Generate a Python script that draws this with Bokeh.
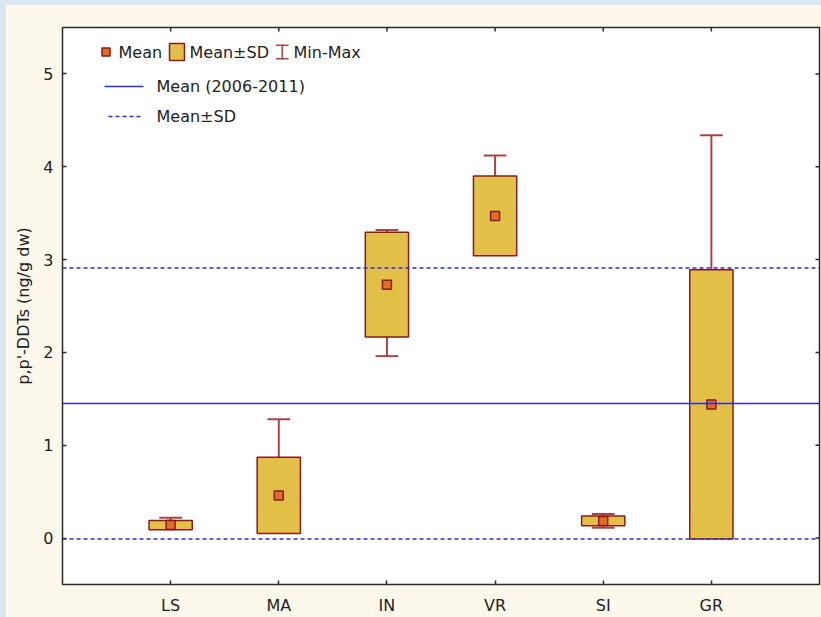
import numpy as np
from bokeh.plotting import figure
from bokeh.models import (FixedTicker, Range1d, Span, Label, BoxAnnotation,
                          ColumnDataSource, Spacer)
from bokeh.layouts import column, row
from bokeh.embed import file_html
from bokeh.resources import INLINE

# p,p'-DDTs by site: mean, standard deviation and range (ng/g dw)
sites = ["LS", "MA", "IN", "VR", "SI", "GR"]
site_mean = [0.14, 0.46, 2.73, 3.47, 0.185, 1.44]
site_sd = [0.05, 0.41, 0.565, 0.43, 0.053, 1.45]
site_min = [0.11, 0.12, 1.96, 3.10, 0.11, 0.05]
site_max = [0.22, 1.28, 3.32, 4.12, 0.26, 4.34]

# overall level for the 2006-2011 period
period_mean = 1.45
period_sd = 1.46

y_ticks = [0, 1, 2, 3, 4, 5]

FONT = "DejaVu Sans"
TEXT = "#222222"
BOX_FILL = "#e2c048"
BOX_LINE = "#8b1a1a"
MEAN_FILL = "#e07020"
WHISKER = "#a84646"
BLUE = "#2a2af0"
FRAME = "#2a2a2a"

pos = np.arange(1, len(sites) + 1)
mean = np.array(site_mean)
sd = np.array(site_sd)
src = ColumnDataSource(dict(
    x=pos, mean=mean, lo=mean - sd, hi=mean + sd,
    mn=np.array(site_min), mx=np.array(site_max),
    cl=pos - 0.105, cr=pos + 0.105,
))

x_range = Range1d(0, len(sites) + 1)
y_range = Range1d(-0.5, 5.5)

p = figure(width=816, height=613, x_range=x_range, y_range=y_range,
           output_backend="svg", toolbar_location=None,
           min_border_left=57, min_border_right=2,
           min_border_top=23, min_border_bottom=32,
           border_fill_color="#fdf8ec", background_fill_color="white")
p.grid.visible = False
p.outline_line_color = FRAME
p.outline_line_width = 1.5

# whiskers (min-max) behind the boxes
p.segment(x0="x", y0="mn", x1="x", y1="mx", source=src,
          line_color=WHISKER, line_width=2)
p.segment(x0="cl", y0="mx", x1="cr", y1="mx", source=src,
          line_color=WHISKER, line_width=2)
p.segment(x0="cl", y0="mn", x1="cr", y1="mn", source=src,
          line_color=WHISKER, line_width=2)

# mean +/- SD boxes
p.vbar(x="x", width=0.4, bottom="lo", top="hi", source=src,
       fill_color=BOX_FILL, line_color=BOX_LINE, line_width=1.5)

# means
p.scatter(x="x", y="mean", source=src, marker="square", size=9,
          fill_color=MEAN_FILL, line_color=BOX_LINE, line_width=1.5)

# inner tick marks on the right and top edges (clipped to the frame)
p.scatter(x=[x_range.end] * len(y_ticks), y=y_ticks, marker="dash",
          size=8, line_color=FRAME, line_width=1.5)
p.scatter(x=list(pos), y=[y_range.end] * len(pos), marker="dash",
          angle=np.pi / 2, size=8, line_color=FRAME, line_width=1.5)

# period mean and mean +/- SD reference lines
p.add_layout(Span(location=period_mean, dimension="width",
                  line_color=BLUE, line_width=1.5))
for loc in (period_mean + period_sd, period_mean - period_sd):
    p.add_layout(Span(location=loc, dimension="width", line_color=BLUE,
                      line_width=1.5, line_dash="4 3"))

# axes
def style_axis(ax):
    ax.axis_line_color = None
    ax.major_tick_in = 4
    ax.major_tick_out = 0
    ax.major_tick_line_color = FRAME
    ax.major_tick_line_width = 1.5
    ax.minor_tick_line_color = None
    ax.major_label_text_font = FONT
    ax.major_label_text_font_size = "16px"
    ax.major_label_text_color = TEXT

p.xaxis.ticker = FixedTicker(ticks=[int(v) for v in pos])
p.xaxis.major_label_overrides = {int(v): s for v, s in zip(pos, sites)}
p.xaxis.major_label_standoff = 11
style_axis(p.xaxis[0])

p.yaxis.ticker = FixedTicker(ticks=y_ticks)
p.yaxis.major_label_standoff = 9
p.yaxis.axis_label = "p,p'-DDTs (ng/g dw)"
p.yaxis.axis_label_text_font = FONT
p.yaxis.axis_label_text_font_size = "16px"
p.yaxis.axis_label_text_font_style = "normal"
p.yaxis.axis_label_text_color = TEXT
p.yaxis.axis_label_standoff = 7
style_axis(p.yaxis[0])

# legend, placed in screen units from the frame's lower-left corner
def lbl(x, y, t):
    p.add_layout(Label(x=x, y=y, x_units="screen", y_units="screen", text=t,
                       text_font=FONT, text_font_size="16px",
                       text_color=TEXT, text_baseline="middle"))

def box(l, r, b, t, fill, line=None, lw=1.5):
    p.add_layout(BoxAnnotation(left=l, right=r, bottom=b, top=t,
                               left_units="screen", right_units="screen",
                               bottom_units="screen", top_units="screen",
                               fill_color=fill, fill_alpha=1,
                               line_color=line, line_width=lw,
                               line_alpha=1 if line else 0))

row1 = 532.5
box(39.5, 47.5, row1 - 4, row1 + 4, MEAN_FILL, BOX_LINE)
lbl(56, row1, "Mean")
box(107, 122, row1 - 8.5, row1 + 8.5, BOX_FILL, BOX_LINE)
lbl(127, row1, "Mean±SD")
box(219, 220.5, row1 - 7.5, row1 + 7.5, WHISKER)
box(213.5, 226, row1 + 6, row1 + 7.5, WHISKER)
box(213.5, 226, row1 - 7.5, row1 - 6, WHISKER)
lbl(231, row1, "Min-Max")

row2 = 498
box(42, 81, row2 - 0.75, row2 + 0.75, BLUE)
lbl(94, row2, "Mean (2006-2011)")

# dashed key: 4 px dashes with 3 px gaps
row3 = 468
for start in range(46, 81, 7):
    box(start, start + 4, row3 - 0.75, row3 + 0.75, BLUE)
lbl(94, row3, "Mean±SD")

page = column(Spacer(width=821, height=4),
              row(Spacer(width=5, height=613), p),
              styles={"background-color": "#dbe6f3"})

open("out.html", "w").write(file_html(page, INLINE))
